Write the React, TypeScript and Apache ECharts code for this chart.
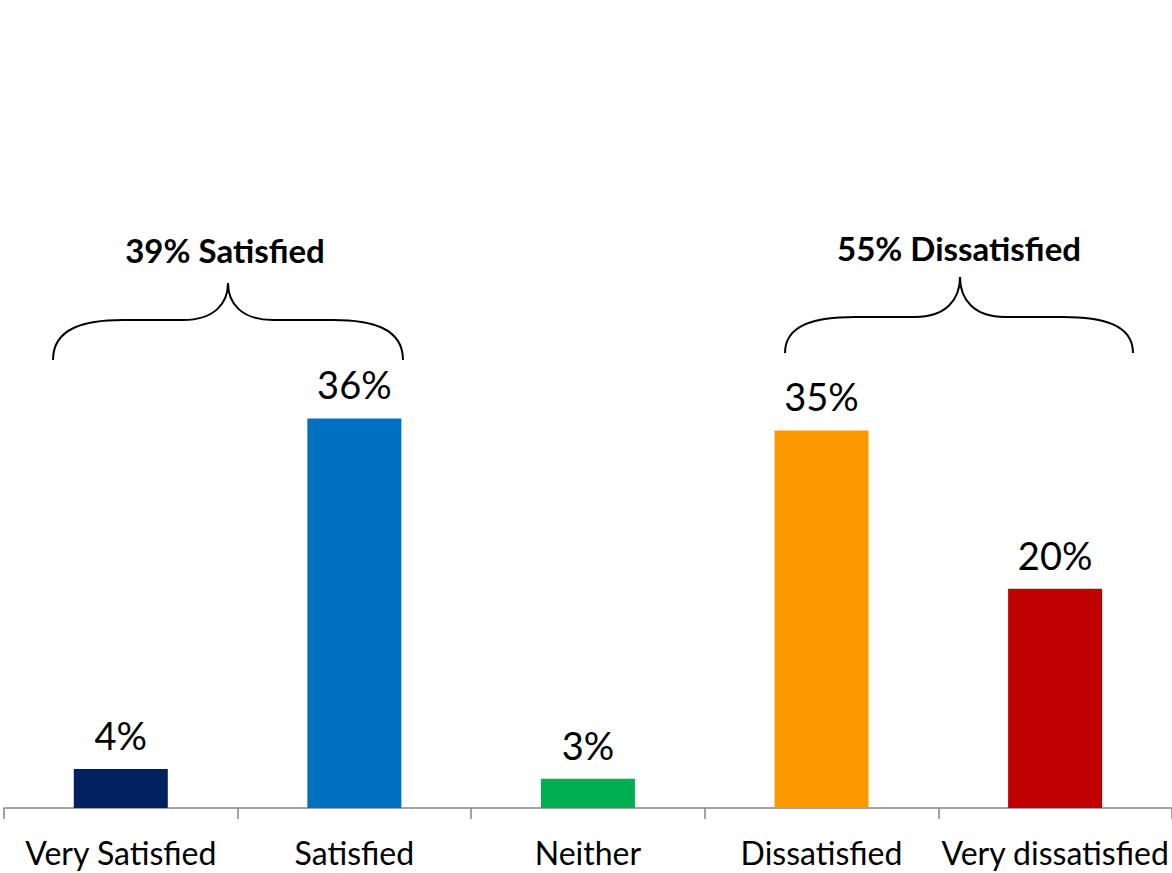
import React, { useEffect, useRef } from "react";
import * as echarts from "echarts";

const categories = ["Very Satisfied", "Satisfied", "Neither", "Dissatisfied", "Very dissatisfied"];
const values = [3.6, 35.9, 2.7, 34.8, 20.2];
const barColors = ["#002060", "#0070C0", "#00B050", "#FF9900", "#C00000"];
const groupLabels = ["39% Satisfied", "55% Dissatisfied"];

const FONT = "Lato, 'Open Sans', sans-serif";

function brace(x0: number, x1: number, xm: number, ym: number, yh: number, yb: number) {
  const s = { stroke: "#000", lineWidth: 2, fill: "none" };
  const qa = 70;
  const qb = 45;
  return [
    { type: "bezierCurve", shape: { x1: x0, y1: yb, cpx1: x0, cpy1: yh + (yb - yh) * 0.2, cpx2: x0 + qa * 0.45, cpy2: yh, x2: x0 + qa, y2: yh }, style: s },
    { type: "line", shape: { x1: x0 + qa, y1: yh, x2: xm - qb, y2: yh }, style: s },
    { type: "bezierCurve", shape: { x1: xm - qb, y1: yh, cpx1: xm - qb * 0.3, cpy1: yh, cpx2: xm, cpy2: yh - (yh - ym) * 0.45, x2: xm, y2: ym }, style: s },
    { type: "bezierCurve", shape: { x1: xm, y1: ym, cpx1: xm, cpy1: yh - (yh - ym) * 0.45, cpx2: xm + qb * 0.3, cpy2: yh, x2: xm + qb, y2: yh }, style: s },
    { type: "line", shape: { x1: xm + qb, y1: yh, x2: x1 - qa, y2: yh }, style: s },
    { type: "bezierCurve", shape: { x1: x1 - qa, y1: yh, cpx1: x1 - qa * 0.45, cpy1: yh, cpx2: x1, cpy2: yh + (yb - yh) * 0.2, x2: x1, y2: yb }, style: s },
  ];
}

export default function App() {
  const ref = useRef<HTMLDivElement>(null);
  useEffect(() => {
    if (!ref.current) return;
    const chart = echarts.init(ref.current, null, { renderer: "svg" });
    chart.setOption({
      animation: false,
      backgroundColor: "#ffffff",
      grid: { left: 4, width: 1170, top: 157, bottom: 65, containLabel: false },
      xAxis: {
        type: "category",
        data: categories,
        axisLine: { show: true, lineStyle: { color: "#868686", width: 1.5 } },
        axisTick: { show: true, length: 11, lineStyle: { color: "#868686", width: 1.5 } },
        axisLabel: { color: "#000", fontSize: 32, fontFamily: FONT, margin: 28, interval: 0 },
      },
      yAxis: { type: "value", min: 0, max: 60, show: false, splitLine: { show: false } },
      series: [
        {
          type: "bar",
          barWidth: 94,
          data: values.map((v, i) => ({ value: v, itemStyle: { color: barColors[i] } })),
          label: {
            show: true,
            position: "top",
            distance: 15,
            color: "#000",
            fontSize: 38,
            fontFamily: FONT,
            formatter: (p: any) => Math.round(p.value) + "%",
          },
        },
      ],
      graphic: [
        ...brace(53, 403, 228, 283, 320, 360),
        ...brace(785, 1133, 960, 277, 317, 353),
        { type: "text", x: 225, y: 250, style: { text: groupLabels[0], fontSize: 33, fontWeight: "bold", fontFamily: FONT, fill: "#000", align: "center", verticalAlign: "middle" } },
        { type: "text", x: 959, y: 248, style: { text: groupLabels[1], fontSize: 33, fontWeight: "bold", fontFamily: FONT, fill: "#000", align: "center", verticalAlign: "middle" } },
      ],
    });
    return () => chart.dispose();
  }, []);
  return <div ref={ref} style={{ position: "absolute", left: 0, top: 0, width: 1172, height: 873 }} />;
}
